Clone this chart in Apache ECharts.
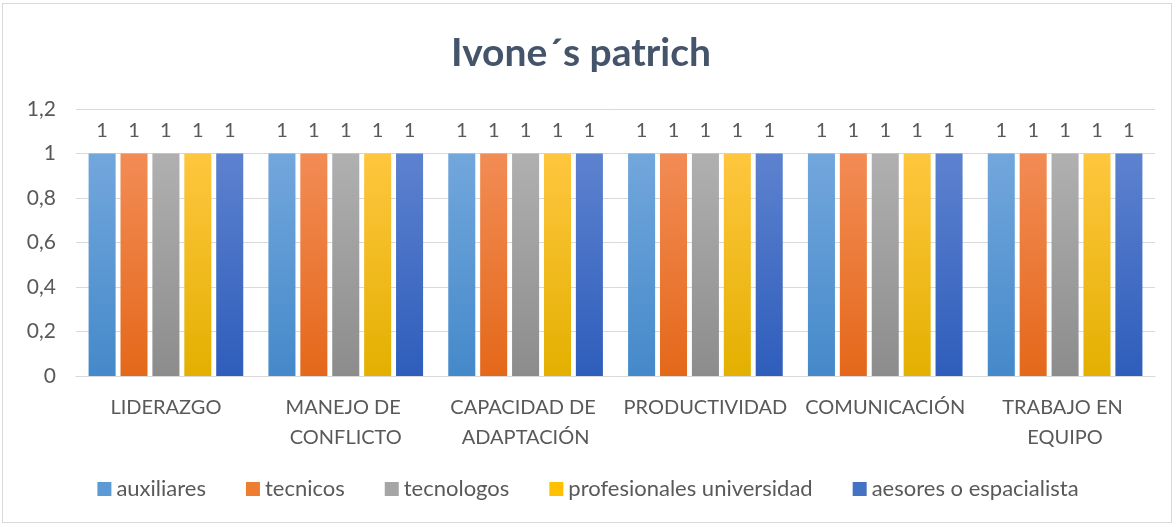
<!DOCTYPE html>
<html>
<head>
<meta charset="utf-8">
<script src="https://cdn.jsdelivr.net/npm/echarts@6/dist/echarts.min.js"></script>
<style>
html,body{margin:0;padding:0;background:#fff;}
#wrap{position:absolute;left:2px;top:3px;width:1170px;height:520px;border:1px solid #d9d9d9;box-sizing:border-box;}
#chart{position:absolute;left:0;top:0;width:1176px;height:527px;}
</style>
</head>
<body>
<div id="wrap"></div>
<div id="chart"></div>
<script>
var categories = ["LIDERAZGO", "MANEJO DE CONFLICTO", "CAPACIDAD DE ADAPTACIÓN", "PRODUCTIVIDAD", "COMUNICACIÓN", "TRABAJO EN EQUIPO"];
var seriesNames = ["auxiliares", "tecnicos", "tecnologos", "profesionales universidad", "aesores o espacialista"];
var auxiliares = [1, 1, 1, 1, 1, 1];
var tecnicos = [1, 1, 1, 1, 1, 1];
var tecnologos = [1, 1, 1, 1, 1, 1];
var profesionales = [1, 1, 1, 1, 1, 1];
var aesores = [1, 1, 1, 1, 1, 1];
var seriesValues = [auxiliares, tecnicos, tecnologos, profesionales, aesores];
var yTicks = { min: 0, max: 1.2, interval: 0.2 };

var gradients = [
  ["#72a7dc", "#4589ca"],
  ["#f28c55", "#e4681a"],
  ["#b0b0b0", "#8c8c8c"],
  ["#ffc63f", "#e3b000"],
  ["#5d82cf", "#2e5dbb"]
];
var legendColors = ["#5b9bd5", "#ed7d31", "#a5a5a5", "#ffc000", "#4472c4"];
var font = "Lato, 'Open Sans', sans-serif";
var txt = "#595959";

var chart = echarts.init(document.getElementById('chart'), null, { renderer: 'canvas' });
var series = seriesNames.map(function (name, i) {
  return {
    name: name,
    type: 'bar',
    data: seriesValues[i],
    barGap: '18%',
    barCategoryGap: '14%',
    itemStyle: {
      color: new echarts.graphic.LinearGradient(0, 0, 0, 1, [
        { offset: 0, color: gradients[i][0] },
        { offset: 1, color: gradients[i][1] }
      ])
    },
    label: {
      show: true, position: 'top', distance: 13,
      color: txt, fontSize: 20, fontFamily: font
    }
  };
});

chart.setOption({
  animation: false,
  title: {
    text: "Ivone´s patrich",
    left: 446, top: 29,
    textStyle: { fontFamily: font, fontWeight: 'bold', fontSize: 39, color: '#44546a' }
  },
  legend: {
    data: seriesNames.map(function (n, i) { return { name: n, itemStyle: { color: legendColors[i] } }; }),
    bottom: 22, left: 'center',
    icon: 'rect', itemWidth: 14, itemHeight: 14, itemGap: 40,
    textStyle: { color: txt, fontSize: 22, fontFamily: font }
  },
  grid: { left: 76, right: 21, top: 109, bottom: 151, containLabel: false },
  xAxis: {
    type: 'category',
    data: categories,
    axisLine: { show: true, lineStyle: { color: '#d9d9d9', width: 1 } },
    axisTick: { show: false },
    axisLabel: {
      color: txt, fontSize: 20, fontFamily: font, margin: 17,
      interval: 0, width: 178, overflow: 'break', lineHeight: 30
    }
  },
  yAxis: {
    type: 'value',
    min: yTicks.min, max: yTicks.max, interval: yTicks.interval,
    axisLine: { show: false },
    axisTick: { show: false },
    splitLine: { lineStyle: { color: '#d9d9d9', width: 1 } },
    axisLabel: {
      color: txt, fontSize: 21, fontFamily: font, margin: 20,
      formatter: function (v) { return String(Math.round(v * 10) / 10).replace('.', ','); }
    }
  },
  series: series
});
</script>
</body>
</html>
